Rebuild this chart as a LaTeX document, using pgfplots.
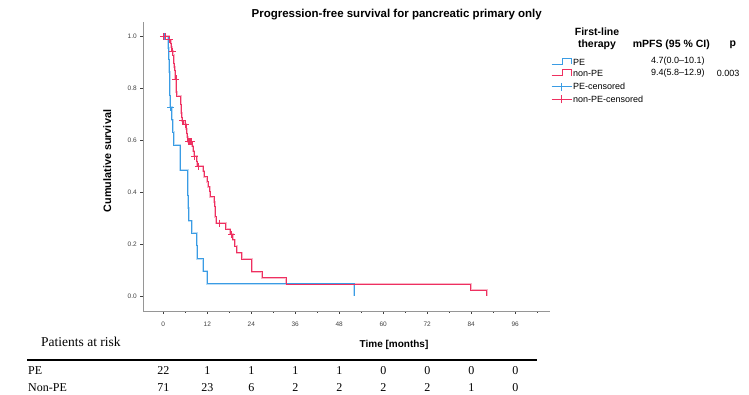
\documentclass[border=0pt]{standalone}
\usepackage{pgfplots}
\pgfplotsset{compat=1.18}
\usepackage{fontspec}
\setmainfont{Liberation Serif}
\newfontfamily\arial{Liberation Sans}

\definecolor{peblue}{RGB}{58,156,228}
\definecolor{npred}{RGB}{238,48,96}
\definecolor{spine}{RGB}{150,150,150}

% Kaplan-Meier estimates (time in months, survival)
\pgfplotstableread{
t     s
0     1.000
1.4   0.955
1.5   0.909
1.6   0.864
1.7   0.818
1.8   0.773
1.9   0.727
2.3   0.679
2.6   0.630
2.9   0.582
4.6   0.485
6.65  0.436
6.7   0.388
6.85  0.339
7.0   0.291
7.8   0.242
9.1   0.194
9.2   0.145
10.9  0.097
12.0  0.048
52.1  0.000
}\pe

\pgfplotstableread{
t     s
0     1.000
1.6   0.986
2.0   0.972
2.2   0.957
2.35  0.942
2.6   0.927
2.8   0.912
2.9   0.897
3.0   0.882
3.1   0.867
3.2   0.852
3.3   0.836
3.5   0.820
3.55  0.803
3.6   0.787
3.7   0.770
4.75  0.754
4.8   0.738
4.9   0.721
4.95  0.705
5.0   0.689
5.1   0.676
5.6   0.661
6.3   0.645
6.45  0.628
6.6   0.612
6.7   0.595
7.9   0.577
8.2   0.558
8.4   0.539
9.1   0.519
9.3   0.500
10.9  0.480
11.2  0.460
12.0  0.441
12.2  0.421
12.7  0.402
12.75 0.383
13.9  0.363
14.0  0.344
14.1  0.325
14.2  0.306
14.5  0.281
17.0  0.259
18.3  0.238
18.9  0.217
19.5  0.192
20.0  0.168
21.4  0.143
24.1  0.095
27.0  0.071
33.5  0.047
83.9  0.0237
88.2  0.000
}\nonpe

% censored observations
\pgfplotstableread{
t    s
0.3  1.000
2.0  0.727
}\pecens

\pgfplotstableread{
t    s
0.0  1.000
0.6  1.000
1.7  0.986
2.45 0.942
3.45 0.836
5.2  0.676
6.1  0.661
6.9  0.595
7.15 0.595
7.4  0.595
7.65 0.595
8.6  0.539
9.6  0.500
15.3 0.281
18.7 0.238
}\nonpecens

\begin{document}
\begin{tikzpicture}
\useasboundingbox (0pt,0pt) rectangle (749pt,395pt);

\begin{axis}[
  at={(143.3pt,84pt)}, anchor=south west,
  scale only axis, width=406.7pt, height=289.3pt,
  xmin=-5.45, xmax=105.5, ymin=-0.0565, ymax=1.056,
  axis x line*=bottom, axis y line*=left,
  axis line style={spine, line width=0.9pt, -},
  xtick={0,12,...,96}, minor xtick={6,18,...,102},
  ytick={0,0.2,0.4,0.6,0.8,1.0},
  tick align=outside, major tick length=3pt, minor tick length=2pt,
  tick style={black!75, line width=0.6pt},
  ticklabel style={font=\arial\fontsize{6.5}{7}\selectfont, text=black!75},
  /pgf/number format/assume math mode=true,
  yticklabel style={/pgf/number format/.cd, fixed, fixed zerofill, precision=1},
  xticklabel style={yshift=-4pt},
  clip=false,
]
% soft halo under each curve, then the curve itself
\addplot[const plot, peblue!35, line width=2pt] table[x=t, y=s] {\pe};
\addplot[const plot, npred!35, line width=2pt] table[x=t, y=s] {\nonpe};
\addplot[const plot, draw=peblue, line width=0.9pt] table[x=t, y=s] {\pe};
\addplot[const plot, draw=npred, line width=0.9pt] table[x=t, y=s] {\nonpe};
\addplot[only marks, mark=+, mark size=3.5pt, peblue, mark options={line width=0.8pt}] table[x=t, y=s] {\pecens};
\addplot[only marks, mark=+, mark size=3.5pt, npred, mark options={line width=0.8pt}] table[x=t, y=s] {\nonpecens};
\end{axis}

\begin{scope}[x=1pt, y=1pt]
% titles
\node[font=\arial\bfseries\fontsize{11.5}{13}\selectfont] at (396.7,380) {Progression-free survival for pancreatic primary only};
\node[rotate=90, font=\arial\bfseries\fontsize{10.8}{13}\selectfont] at (107.3,234) {Cumulative survival};
\node[font=\arial\bfseries\fontsize{10}{12}\selectfont] at (394,50) {Time [months]};

% legend
\begin{scope}[font=\arial\fontsize{9}{11}\selectfont]
\node[align=center, font=\arial\bfseries\fontsize{10.5}{11.7}\selectfont] at (597,356) {First-line\\therapy};
\node[font=\arial\bfseries\fontsize{10.5}{12}\selectfont] at (671.3,350) {mPFS (95 \% CI)};
\node[font=\arial\bfseries\fontsize{10.5}{12}\selectfont] at (732.7,350) {p};
% row 1
\draw[peblue, line width=0.9pt] (551.7,330.5) -- (562,330.5) -- (562,336.5) -- (571.5,336.5) -- (571.5,330.5);
\node[anchor=west, inner sep=0pt] at (572.8,333) {PE};
\node[anchor=west, inner sep=0pt] at (651,334.3) {4.7(0.0–10.1)};
% row 2
\draw[npred, line width=0.9pt] (551.7,319.2) -- (562,319.2) -- (562,325.2) -- (571.5,325.2) -- (571.5,319.2);
\node[anchor=west, inner sep=0pt] at (572.8,321.7) {non-PE};
\node[anchor=west, inner sep=0pt] at (651,321.7) {9.4(5.8–12.9)};
\node[anchor=west, inner sep=0pt] at (716.7,321.7) {0.003};
% row 3
\draw[peblue, line width=0.9pt] (551.7,308.3) -- (571.7,308.3) (561.7,304.3) -- (561.7,312.3);
\node[anchor=west, inner sep=0pt] at (572.8,308.3) {PE-censored};
% row 4
\draw[draw=npred, line width=0.9pt] (551.7,295.7) -- (571.7,295.7) (561.7,291.7) -- (561.7,299.7);
\node[anchor=west, inner sep=0pt] at (572.8,295.7) {non-PE-censored};
\end{scope}

% numbers at risk
\begin{scope}[font=\fontsize{12}{14}\selectfont]
\node[anchor=west, inner sep=0pt, font=\fontsize{13.5}{15}\selectfont] at (41,53.3) {Patients at risk};
\draw[line width=2.2pt] (27,35) -- (537,35);
\node[anchor=west, inner sep=0pt] at (28,24.3) {PE};
\node[anchor=west, inner sep=0pt] at (28,7.7) {Non-PE};
\foreach \n [count=\i from 0] in {22,1,1,1,1,0,0,0,0}
  \node[inner sep=0pt] at (163.3+44*\i,24.3) {\n};
\foreach \n [count=\i from 0] in {71,23,6,2,2,2,2,1,0}
  \node[inner sep=0pt] at (163.3+44*\i,7.7) {\n};
\end{scope}
\end{scope}
\end{tikzpicture}
\end{document}
